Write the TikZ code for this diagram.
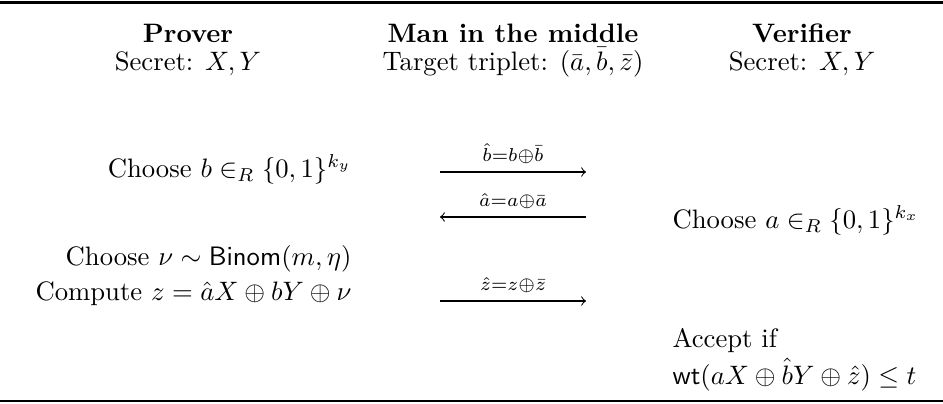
\documentclass[tikz,border=0pt]{standalone}
\usepackage{amsmath, amssymb}
\usepackage{tikz}

\begin{document}
\begin{tikzpicture}[>=to, x=0.375pt, y=-0.375pt,
    every node/.style={inner sep=0pt},
    head/.style={anchor=base, font=\bfseries},
    sub/.style={anchor=base},
    prv/.style={anchor=base east},
    vrf/.style={anchor=base west},
    msg/.style={->, line width=0.4pt},
    lbl/.style={above=3pt}]
  \useasboundingbox (0,0) rectangle (943,403);
  % Regler
  \draw[line width=0.9pt] (0,2.5) -- (943,2.5);
  \draw[line width=0.9pt] (0,401) -- (943,401);
  % Hoveder
  \node[head] (hp) at (188,42) {Prover};
  \node[head] (hm) at (513,42) {Man in the middle};
  \node[head] (hv) at (802,42) {Verifier};
  \node[sub] (sp) at (188,70) {Secret: $X, Y$};
  \node[sub] (sm) at (513,70) {Target triplet: $(\bar{a}, \bar{b}, \bar{z})$};
  \node[sub] (sv) at (802,70) {Secret: $X, Y$};
  % Prover
  \node[prv] (cb) at (352,177) {Choose $b \in_R \{0,1\}^{k_y}$};
  \node[prv] (cn) at (352,265) {Choose $\nu \sim \mathsf{Binom}(m,\eta)$};
  \node[prv] (cz) at (352,300) {Compute $z = \hat{a}X \oplus bY \oplus \nu$};
  % Verifier
  \node[vrf] (ca) at (672,228) {Choose $a \in_R \{0,1\}^{k_x}$};
  \node[vrf] (ac) at (672,347) {Accept if};
  \node[vrf] (wt) at (672,384) {$\mathsf{wt}(aX \oplus \hat{b}Y \oplus \hat{z}) \leq t$};
  % Beskeder
  \coordinate (m1a) at (440,172); \coordinate (m1b) at (586,172);
  \coordinate (m2a) at (586,217); \coordinate (m2b) at (440,217);
  \coordinate (m3a) at (440,301); \coordinate (m3b) at (586,301);
  \draw[msg] (m1a) -- node[lbl] {$\scriptstyle \hat{b}=b\oplus\bar{b}$} (m1b);
  \draw[msg] (m2a) -- node[lbl] {$\scriptstyle \hat{a}=a\oplus\bar{a}$} (m2b);
  \draw[msg] (m3a) -- node[lbl] {$\scriptstyle \hat{z}=z\oplus\bar{z}$} (m3b);
\end{tikzpicture}
\end{document}
